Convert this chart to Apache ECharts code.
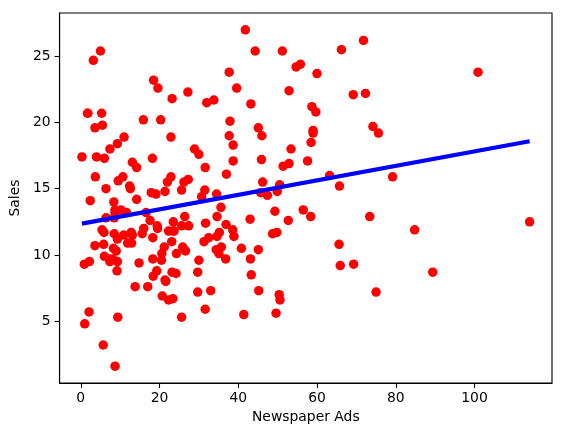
<!DOCTYPE html>
<html>
<head>
<meta charset="utf-8">
<script src="https://cdn.jsdelivr.net/npm/echarts@6/dist/echarts.min.js"></script>
<style>html,body{margin:0;padding:0;background:#fff;}#c{width:562px;height:437px;}</style>
</head>
<body>
<div id="c"></div>
<script>
const newspaper = [69.2,45.1,69.3,58.5,58.4,75,23.5,11.6,1,21.2,24.2,4,65.9,7.2,46,52.9,114,55.8,18.3,19.1,
53.4,23.5,49.6,26.2,18.3,19.5,12.6,22.9,22.9,40.8,43.2,38.6,30,0.3,7.4,8.5,5,45.7,35.1,32,
31.6,38.7,1.8,26.4,43.3,31.5,35.7,18.5,49.9,36.8,34.6,3.6,39.6,58.7,15.9,60,41.4,16.6,37.7,9.3,
21.4,54.7,27.3,8.4,28.9,0.9,2.2,10.2,11,27.2,38.7,31.7,19.3,31.3,13.1,89.4,20.7,14.2,9.4,23.1,
22.3,36.9,32.5,35.6,33.8,65.7,16,63.2,73.4,51.4,9.3,33,59,72.3,10.9,52.9,5.9,22,51.2,45.9,
49.8,100.9,21.4,17.9,5.3,59,29.7,23.2,25.6,5.5,56.5,23.2,2.4,10.7,34.5,52.7,25.6,14.8,79.2,22.3,
46.2,50.4,15.6,12.4,74.2,25.9,50.6,9.2,3.2,43.1,8.7,43,2.1,45.1,65.6,8.5,9.3,59.7,20.5,1.7,
12.9,75.6,37.9,34.4,38.9,9,8.7,44.3,11.9,20.6,37,48.7,14.2,37.7,9.5,5.7,50.5,24.3,45.2,34.6,
30.7,49.3,25.6,7.4,5.4,84.8,21.6,19.4,57.6,6.4,18.4,47.4,17,12.8,13.1,41.8,20.3,35.2,23.7,17.6,
8.3,27.4,29.7,71.8,30,19.6,26.6,18.2,3.7,23.4,5.8,6,31.6,3.6,6,13.8,8.1,6.4,66.2,8.7];
const sales = [22.1,10.4,9.3,18.5,12.9,7.2,11.8,13.2,4.8,10.6,8.6,17.4,9.2,9.7,19,22.4,12.5,24.4,11.3,14.6,
18,12.5,5.6,15.5,9.7,12,15,15.9,18.9,10.5,21.4,11.9,9.6,17.4,9.5,12.8,25.4,14.7,10.1,21.5,
16.6,17.1,20.7,12.9,8.5,14.9,10.6,23.2,14.8,9.7,11.4,10.7,22.6,21.2,20.2,23.7,5.5,13.2,23.8,18.4,
8.1,24.2,15.7,14,18,9.3,9.5,13.4,18.9,22.3,18.3,12.4,8.8,11,17,8.7,6.9,14.2,5.3,11,
11.8,12.3,11.3,13.6,21.7,15.2,12,16,12.9,16.7,11.2,7.3,19.4,22.2,11.5,16.9,11.7,15.5,25.4,17.2,
11.7,23.8,14.8,14.7,20.7,19.2,7.2,8.7,5.3,19.8,13.4,21.8,14.1,15.9,14.6,12.6,12.2,9.4,15.9,6.6,
15.5,7,11.6,15.2,19.7,10.6,6.6,8.8,24.7,9.7,1.6,12.7,5.7,19.6,10.8,11.6,9.5,20.8,9.6,20.7,
10.9,19.2,20.1,10.4,11.4,10.3,13.2,25.4,10.9,10.1,16.1,11.6,16.6,19,15.6,3.2,15.3,10.1,7.3,12.9,
14.4,13.3,14.9,18,11.9,11.9,8,12.2,17.1,15,8.4,14.5,7.6,11.7,11.5,27,20.2,11.7,11.8,12.6,
10.5,12.2,8.7,26.2,17.6,22.6,10.3,17.3,15.9,6.7,10.8,9.9,5.9,19.6,17.3,7.6,9.7,12.8,25.5,13.4];
const xTicks = [0, 20, 40, 60, 80, 100];
const yTicks = [5, 10, 15, 20, 25];

// least-squares fit computed from the data
const n = newspaper.length;
const mx = newspaper.reduce((a,b)=>a+b,0)/n;
const my = sales.reduce((a,b)=>a+b,0)/n;
let sxy = 0, sxx = 0;
for (let i = 0; i < n; i++) { sxy += (newspaper[i]-mx)*(sales[i]-my); sxx += (newspaper[i]-mx)**2; }
const slope = sxy/sxx, icpt = my - slope*mx;
const xmin = Math.min(...newspaper), xmax = Math.max(...newspaper);
const ymin = Math.min(...sales), ymax = Math.max(...sales);
const fitLine = [[xmin, icpt + slope*xmin], [xmax, icpt + slope*xmax]];
const pts = newspaper.map((v,i)=>[v, sales[i]]);

const xr = xmax - xmin, yr = ymax - ymin;
const font = 'DejaVu Sans';
const chart = echarts.init(document.getElementById('c'), null, {renderer:'canvas'});
chart.setOption({
  animation: false,
  backgroundColor: '#fff',
  textStyle: {fontFamily: font},
  grid: {left: 56, right: 10, top: 13, bottom: 54, show: true, borderColor: '#000', borderWidth: 1.1, backgroundColor: 'transparent'},
  xAxis: {
    type: 'value', min: xmin - 0.05*xr, max: xmax + 0.05*xr,
    name: 'Newspaper Ads', nameLocation: 'middle', nameGap: 27,
    nameTextStyle: {fontFamily: font, fontSize: 13.9, color: '#000'},
    axisLine: {show: true, onZero: false, lineStyle: {color: '#000', width: 1.1}},
    axisTick: {show: true, length: 5, lineStyle: {color: '#000', width: 1.1}, customValues: xTicks},
    axisLabel: {fontFamily: font, fontSize: 13.9, color: '#000', margin: 8, customValues: xTicks},
    splitLine: {show: false}
  },
  yAxis: {
    type: 'value', min: ymin - 0.05*yr, max: ymax + 0.05*yr,
    name: 'Sales', nameLocation: 'middle', nameGap: 33,
    nameTextStyle: {fontFamily: font, fontSize: 13.9, color: '#000'},
    axisLine: {show: true, onZero: false, lineStyle: {color: '#000', width: 1.1}},
    axisTick: {show: true, length: 5, lineStyle: {color: '#000', width: 1.1}, customValues: yTicks},
    axisLabel: {fontFamily: font, fontSize: 13.9, color: '#000', margin: 9, customValues: yTicks},
    splitLine: {show: false}
  },
  series: [
    {type: 'scatter', data: pts, symbol: 'circle', symbolSize: 9.5,
     itemStyle: {color: '#ff0000', opacity: 1}, z: 2},
    {type: 'line', data: fitLine, showSymbol: false, symbol: 'none',
     lineStyle: {color: '#0000ff', width: 4.2}, z: 3}
  ]
});
</script>
</body>
</html>
